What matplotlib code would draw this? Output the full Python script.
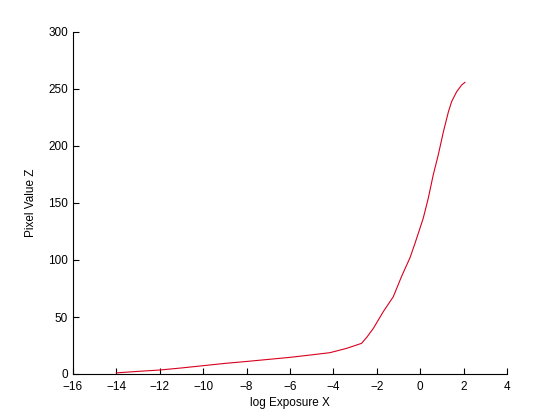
import matplotlib
matplotlib.use("Agg")
import matplotlib.pyplot as plt

log_exposure = [-14.0, -13.0, -12.0, -11.0, -10.0, -9.0, -8.0, -7.0, -6.0, -5.0, -4.16,
                -3.39, -2.70, -2.45, -2.16, -1.70, -1.24, -0.85, -0.47, -0.24, 0.14,
                0.37, 0.60, 0.83, 1.07, 1.30, 1.45, 1.68, 1.91, 2.06]
pixel_value = [1.0, 2.3, 3.5, 5.3, 7.3, 9.3, 11.0, 12.8, 14.6, 16.8, 18.7,
               22.5, 26.9, 32.5, 40.0, 54.7, 67.8, 86.0, 102.0, 114.6, 136.6,
               154.0, 174.6, 192.0, 212.6, 230.0, 239.0, 247.6, 253.5, 255.8]

plt.rcParams['font.family'] = ['Liberation Sans', 'DejaVu Sans']
fig = plt.figure(figsize=(5.6, 4.2), dpi=100)
ax = fig.add_axes([73/560, 46/420, 434/560, 342/420])
ax.plot(log_exposure, pixel_value, color='#d8001e', linewidth=0.8)
ax.set_xlim(-16, 4)
ax.set_ylim(0, 300)
ax.set_xticks(list(range(-16, 5, 2)))
ax.set_yticks(list(range(0, 301, 50)))
ax.spines['top'].set_visible(False)
ax.spines['right'].set_visible(False)
ax.tick_params(direction='in', length=4, labelsize=8.5, width=0.8)
ax.tick_params(axis='x', pad=5)
ax.set_xlabel('log Exposure X', fontsize=8.5, labelpad=3)
ax.set_ylabel('Pixel Value Z', fontsize=8.5, labelpad=8)
fig.savefig('out.png', dpi=100)
